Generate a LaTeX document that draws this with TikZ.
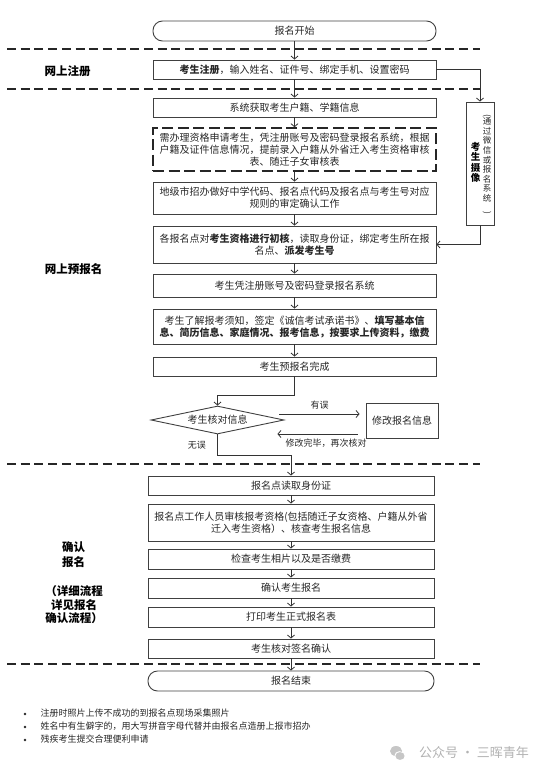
\documentclass[tikz,border=0pt]{standalone}
\usepackage{fontspec}
\setmainfont{Noto Sans CJK SC}
\usetikzlibrary{arrows.meta,shapes.geometric}

\begin{document}
\begin{tikzpicture}[x=1pt,y=-1pt,
  box/.style={draw=black!75, line width=0.9pt, minimum width=283pt, minimum height=19pt,
    inner sep=1pt, align=center, text=black!85, font=\fontsize{10}{12}\selectfont},
  lowbox/.style={box, minimum width=286pt},
  term/.style={box, rounded corners=9.5pt},
  dbox/.style={box, line width=1.6pt, draw=black!85, dash pattern=on 11pt off 4.5pt},
  sep/.style={draw=black!85, line width=1.7pt, dash pattern=on 9pt off 4.7pt},
  arr/.style={draw=black!80, line width=0.8pt, -{Straight Barb[length=3pt,width=7pt]}},
  lab/.style={font=\fontsize{11.5}{15}\selectfont\bfseries, align=center},
  note/.style={font=\fontsize{9}{11}\selectfont, text=black!85},
  dot/.style={circle, fill=black!85, inner sep=0pt, minimum size=2.8pt}]
  \useasboundingbox (0,0) rectangle (553,776);

  % Separators
  \foreach \y in {49,89,464,664} {
    \draw[sep] (7,\y) -- (480,\y);
  }

  % Define nodes
  \node[term, minimum height=20pt] (start) at (294.5,31) {报名开始};
  \node[box] (reg) at (294.5,69.5) {\textbf{考生注册}，输入姓名、证件号、绑定手机、设置密码};
  \node[box] (sys) at (294.5,107.5) {系统获取考生户籍、学籍信息};
  \node[dbox, minimum height=43pt] (apply) at (294.5,149.5)
    {需办理资格申请考生，凭注册账号及密码登录报名系统，根据\\
     户籍及证件信息情况，提前录入户籍从外省迁入考生资格审核\\
     表、随迁子女审核表};
  \node[box, minimum height=32pt] (city) at (294.5,198)
    {地级市招办做好中学代码、报名点代码及报名点与考生号对应\\规则的审定确认工作};
  \node[box, minimum height=37pt] (check) at (294.5,244.5)
    {各报名点对\textbf{考生资格进行初核}，读取身份证，绑定考生所在报\\名点、\textbf{派发考生号}};
  \node[box, minimum height=23pt] (login) at (294.5,285.5) {考生凭注册账号及密码登录报名系统};
  \node[box, minimum height=35pt] (fill) at (294.5,326.5)
    {考生了解报考须知，签定《诚信考试承诺书》、\textbf{填写基本信}\\
     \textbf{息、简历信息、家庭情况、报考信息，按要求上传资料，缴费}};
  \node[box] (done) at (294.5,366.5) {考生预报名完成};
  \node[draw=black!75, line width=0.9pt, shape=diamond, aspect=4.75, inner sep=0pt,
    minimum width=133pt, minimum height=28pt, text=black!85,
    font=\fontsize{10}{12}\selectfont] (diag) at (217.5,420) {考生核对信息};
  \node[box, minimum width=72pt, minimum height=35pt] (modify) at (402,420.5) {修改报名信息};

  % Photo box
  \node[draw=black!75, line width=0.9pt, minimum width=28pt, minimum height=123pt] (cam) at (480,163.5) {};
  \node[align=center, font=\fontsize{9.5}{10.5}\selectfont\bfseries] (camt) at (475.5,162.5) {考\\生\\摄\\像};
  \node[align=center, text=black!85, font=\fontsize{8.5}{9.6}\selectfont] (camw) at (487,164)
    {\rotatebox{-90}{(}\\通\\过\\微\\信\\或\\报\\名\\系\\统\\\rotatebox{-90}{)}};

  \node[lowbox] (read) at (291,485.5) {报名点读取身份证};
  \node[lowbox, minimum height=37pt] (audit) at (291,522.5)
    {报名点工作人员审核报考资格(包括随迁子女资格、户籍从外省\\迁入考生资格）、核查考生报名信息};
  \node[lowbox, minimum height=20pt] (photo) at (291,559) {检查考生相片以及是否缴费};
  \node[lowbox, minimum height=20pt] (confirm) at (291,588) {确认考生报名};
  \node[lowbox, minimum height=20pt] (print) at (291,617) {打印考生正式报名表};
  \node[lowbox] (sign) at (291,648.5) {考生核对签名确认};
  \node[term, minimum width=286pt, minimum height=20pt] (end) at (291,681) {报名结束};

  % Section labels
  \node[lab] (l1) at (67.5,71) {网上注册};
  \node[lab] (l2) at (73.5,269) {网上预报名};
  \node[lab] (l3) at (73.5,554.5) {确认\\报名};
  \node[lab, font=\fontsize{11.5}{13.5}\selectfont\bfseries] (l4) at (74,605) {（详细流程\\详见报名\\确认流程）};

  % Draw connectors
  \coordinate (j1) at (217.5,395);
  \coordinate (j2) at (217.5,455);
  \draw[arr] (start.south) -- (reg.north);
  \draw[arr] (reg.south) -- (sys.north);
  \draw[arr] (sys.south) -- (apply.north);
  \draw[arr] (apply.south) -- (city.north);
  \draw[arr] (city.south) -- (check.north);
  \draw[arr] (check.south) -- (login.north);
  \draw[arr] (login.south) -- (fill.north);
  \draw[arr] (fill.south) -- (done.north);
  \draw[arr] (done.south) |- (j1) -- (diag.north);
  \draw[arr] ([shift={(-5,-6)}]diag.east) -- ([shift={(-6,-6.5)}]modify.west)
    node[note, midway, above=1pt] {有误};
  \draw[arr] ([shift={(-8,13.5)}]modify.west) -- ([shift={(-7,14)}]diag.east)
    node[note, midway, below=1pt, xshift=8.5pt] {修改完毕，再次核对};
  \draw[arr] (diag.south) -- (j2) node[note, midway, left, xshift=-8pt] {无误} -| (read.north);
  \draw[arr] (reg.east) -| (cam.north);
  \draw[arr] (cam.south) |- (check.east);
  \draw[arr] (read.south) -- (audit.north);
  \draw[arr] (audit.south) -- (photo.north);
  \draw[arr] (photo.south) -- (confirm.north);
  \draw[arr] (confirm.south) -- (print.north);
  \draw[arr] (print.south) -- (sign.north);
  \draw[arr] (sign.south) -- (end.north);

  % Notes
  \node[dot] (b1) at (25,714) {};
  \node[dot] (b2) at (25,727) {};
  \node[dot] (b3) at (25,740) {};
  \node[note, anchor=west] (n1) at (37,713) {注册时照片上传不成功的到报名点现场采集照片};
  \node[note, anchor=west] (n2) at (37,726) {姓名中有生僻字的，用大写拼音字母代替并由报名点造册上报市招办};
  \node[note, anchor=west] (n3) at (37,739) {残疾考生提交合理便利申请};

  % Watermark
  \fill[gray!45] (396,751) ellipse (6pt and 5pt);
  \fill[white] (399.5,755.5) ellipse (5pt and 4.3pt);
  \fill[gray!45] (400,756) ellipse (4.6pt and 3.9pt);
  \node[text=gray!60, font=\fontsize{13}{13}\selectfont] (wm) at (474,753) {公众号 · 三晖青年};
\end{tikzpicture}
\end{document}
